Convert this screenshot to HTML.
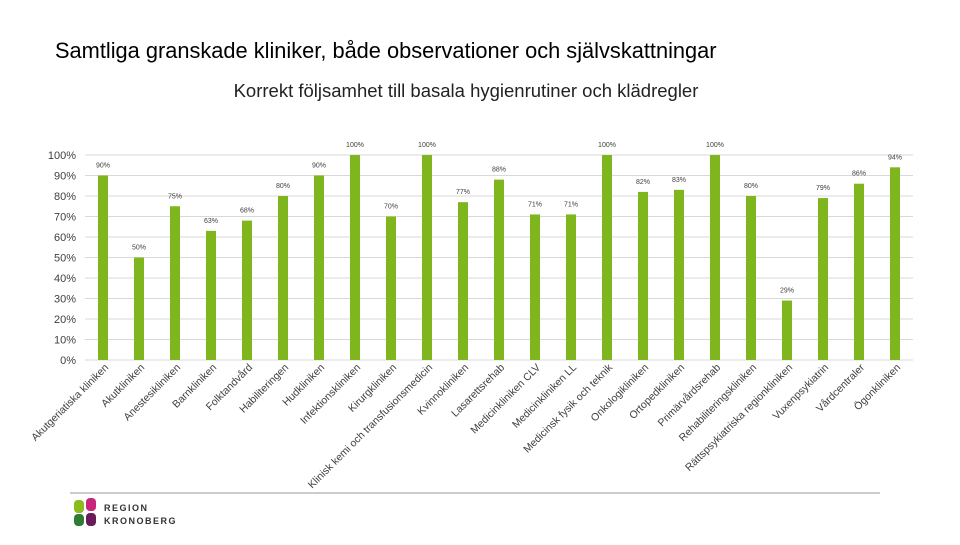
<!DOCTYPE html>
<html><head><meta charset="utf-8"><style>
body{margin:0;background:#fff;width:960px;height:540px;overflow:hidden;font-family:"Liberation Sans",sans-serif}
</style></head><body>
<svg width="960" height="540" xmlns="http://www.w3.org/2000/svg" font-family="Liberation Sans, sans-serif">
<text x="55" y="58" font-size="21.8" fill="#000">Samtliga granskade kliniker, både observationer och självskattningar</text>
<text x="466" y="97" font-size="18.5" fill="#222" text-anchor="middle">Korrekt följsamhet till basala hygienrutiner och klädregler</text>
<g id="grid"></g>
<g id="yt"></g>
<g id="bars"></g>
<g id="xl"></g>
<line x1="70" y1="493" x2="880" y2="493" stroke="#bbb" stroke-width="1.5"/>
<g>
<rect x="74" y="500" width="10" height="13" rx="4" fill="#8bbc1e"/>
<rect x="86" y="498" width="10" height="13" rx="4" fill="#c8267a"/>
<rect x="74" y="514" width="10" height="12" rx="4" fill="#2e7d32"/>
<rect x="86" y="513" width="10" height="13" rx="4" fill="#6a1b5a"/>
<text x="104" y="511" font-size="9" font-weight="bold" fill="#333" letter-spacing="1.5">REGION</text>
<text x="104" y="524" font-size="9" font-weight="bold" fill="#333" letter-spacing="1.5">KRONOBERG</text>
</g>
</svg>
<script>
const categories=["Akutgeriatiska kliniken","Akutkliniken","Anestesikliniken","Barnkliniken","Folktandvård","Habiliteringen","Hudkliniken","Infektionskliniken","Kirurgkliniken","Klinisk kemi och transfusionsmedicin","Kvinnokliniken","Lasarettsrehab","Medicinkliniken CLV","Medicinkliniken LL","Medicinsk fysik och teknik","Onkologikliniken","Ortopedkliniken","Primärvårdsrehab","Rehabiliteringskliniken","Rättspsykiatriska regionkliniken","Vuxenpsykiatrin","Vårdcentraler","Ögonkliniken"];
const values=[90,50,75,63,68,80,90,100,70,100,77,88,71,71,100,82,83,100,80,29,79,86,94];
const ticks=[0,10,20,30,40,50,60,70,80,90,100];
const NS="http://www.w3.org/2000/svg";
const y0=360,y1=155,x0=85,step=36;
const y=v=>y0-(v/100)*(y0-y1);
const x=i=>x0+step*(i+0.5);
function mk(t,a,p){const e=document.createElementNS(NS,t);for(const k in a)e.setAttribute(k,a[k]);p.appendChild(e);return e;}
const grid=document.getElementById('grid'),yt=document.getElementById('yt'),bars=document.getElementById('bars'),xl=document.getElementById('xl');
ticks.forEach(t=>{
 const l=mk('line',{x1:x0,x2:x0+step*categories.length,y1:y(t),y2:y(t),stroke:'#d9d9d9','stroke-width':1},grid);
 
 
 const tx=mk('text',{x:76,y:y(t)+4,'font-size':11,fill:'#404040','text-anchor':'end'},yt);
 tx.textContent=t+'%';
 
 
});
values.forEach((v,i)=>{
 const r=mk('rect',{x:x(i)-5,y:y(v),width:10,height:y0-y(v),fill:'#7fb61e'},bars);
 
 
 const t=mk('text',{x:x(i),y:y(v)-8,'font-size':7,fill:'#404040','text-anchor':'middle'},bars);
 t.textContent=v+'%';
 
 
 const c=mk('text',{x:x(i)+6,y:y0+8,'font-size':10.5,fill:'#404040','text-anchor':'end',transform:`rotate(-45 ${x(i)+6} ${y0+8})`},xl);
 c.textContent=categories[i];
 
 
});
</script>
</body></html>
